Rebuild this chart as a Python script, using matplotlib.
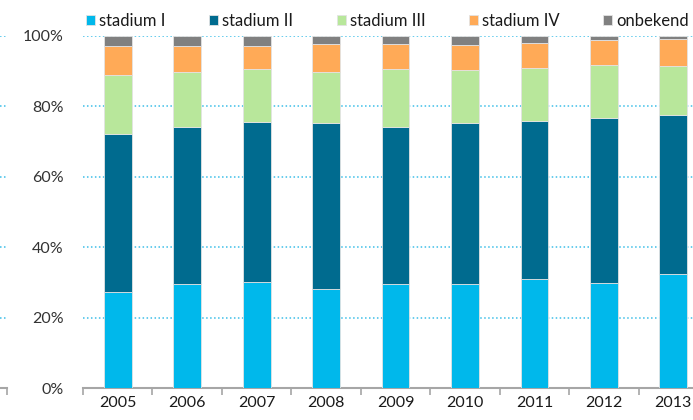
import matplotlib.pyplot as plt
import numpy as np

plt.rcParams['font.family'] = ['Lato', 'DejaVu Sans']

# jaartallen en aandelen per stadium (%)
jaren = ['2005', '2006', '2007', '2008', '2009', '2010', '2011', '2012', '2013']
stadium_1 = [27.2, 29.5, 30.0, 28.0, 29.5, 29.6, 31.0, 29.8, 32.4]
stadium_2 = [44.9, 44.7, 45.6, 47.3, 44.6, 45.6, 44.9, 46.9, 45.1]
stadium_3 = [16.7, 15.6, 15.1, 14.5, 16.4, 15.1, 14.9, 15.2, 14.0]
stadium_4 = [8.4, 7.4, 6.5, 8.0, 7.2, 7.1, 7.1, 7.1, 7.7]
onbekend = [2.8, 2.8, 2.8, 2.2, 2.3, 2.6, 2.1, 1.0, 0.8]

reeksen = [stadium_1, stadium_2, stadium_3, stadium_4, onbekend]
namen = ['stadium I', 'stadium II', 'stadium III', 'stadium IV', 'onbekend']
kleuren = ['#00B8EB', '#006B8F', '#B8E79B', '#FFAA57', '#808080']

grid_kleur = '#3DBFE8'
as_kleur = '#A6A6A6'

fig = plt.figure(figsize=(6.93, 4.2), dpi=100)
ax = fig.add_axes([83 / 693, 32 / 420, 625 / 693, 352 / 420])

x = np.arange(len(jaren))
onder = np.zeros(len(jaren))
for waarden, naam, kleur in zip(reeksen, namen, kleuren):
    ax.bar(x, waarden, width=0.4, bottom=onder, color=kleur, label=naam,
           edgecolor='#E3E3E3', linewidth=0.6, zorder=3)
    onder += np.array(waarden)

ax.set_xlim(-0.5, 8.5)
ax.set_ylim(0, 100)
ax.set_yticks([0, 20, 40, 60, 80, 100])
ax.set_yticklabels(['0%', '20%', '40%', '60%', '80%', '100%'])
ax.yaxis.grid(True, color=grid_kleur, linestyle=(0, (1, 1.6)), linewidth=1.1, zorder=0)
ax.tick_params(axis='y', length=0, pad=14, labelsize=11.5, labelcolor='#333333')

ax.set_xticks(x)
ax.set_xticklabels(jaren)
ax.set_xticks(np.arange(-0.5, 9, 1), minor=True)
ax.tick_params(axis='x', which='major', length=0, pad=6, labelsize=11.5, labelcolor='#1a1a1a')
ax.tick_params(axis='x', which='minor', length=5, width=1.2, color=as_kleur)

for kant in ['left', 'right', 'top']:
    ax.spines[kant].set_visible(False)
ax.spines['bottom'].set_color(as_kleur)
ax.spines['bottom'].set_linewidth(1.5)

# stukje van de vorige grafiek links
ax2 = fig.add_axes([0, 32 / 420, 7 / 693, 352 / 420])
ax2.set_xlim(0, 1)
ax2.set_ylim(0, 100)
ax2.set_yticks([0, 20, 40, 60, 80, 100])
ax2.yaxis.grid(True, color=grid_kleur, linestyle=(0, (1, 1.6)), linewidth=1.1)
ax2.tick_params(axis='y', length=0, labelleft=False)
ax2.set_xticks([1])
ax2.tick_params(axis='x', length=5, width=1.2, color=as_kleur, labelbottom=False)
for kant in ['left', 'right', 'top']:
    ax2.spines[kant].set_visible(False)
ax2.spines['bottom'].set_color(as_kleur)
ax2.spines['bottom'].set_linewidth(1.5)

ax.legend(loc='center left', bbox_to_anchor=(3 / 625, 1 + 15 / 352), ncol=5, frameon=False,
          fontsize=12, handlelength=0.55, handleheight=0.55, handletextpad=0.25,
          columnspacing=2.6, borderaxespad=0, borderpad=0, labelcolor='#1a1a1a')

fig.savefig('out.png', dpi=100)
